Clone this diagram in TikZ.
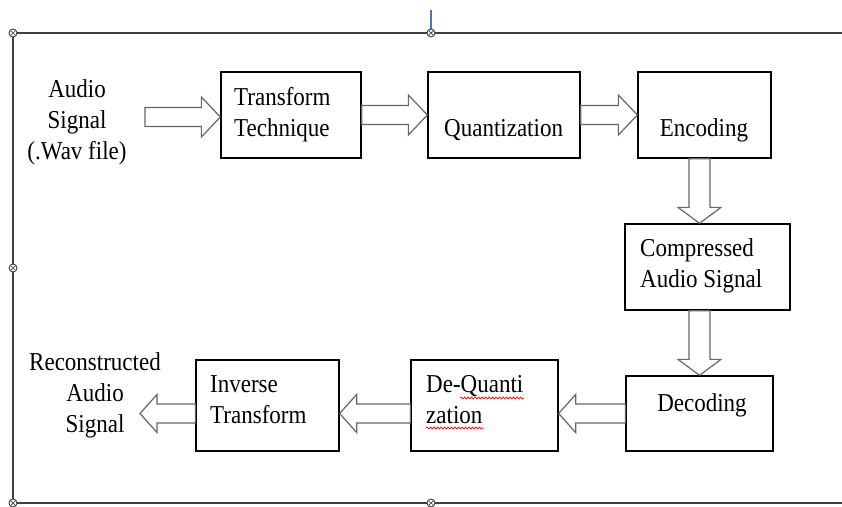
\documentclass[tikz,border=0pt]{standalone}
\usepackage{fontspec}
\setmainfont{Liberation Serif}
\usepackage{graphicx}
\usetikzlibrary{calc,decorations.pathmorphing}

\newcommand{\vt}[2][c]{\scalebox{1}[1.12]{\begin{tabular}{@{}#1@{}}#2\end{tabular}}}
\definecolor{tickblue}{RGB}{80,115,185}

\tikzset{
  box/.style={draw=black, line width=1.3pt, fill=white, inner sep=0pt},
  txt/.style={inner sep=0pt, font=\fontsize{23}{27.7}\selectfont},
  blk/.style={draw=black!60, line width=1.2pt, fill=white, line join=miter},
  frame/.style={draw=black!75, line width=1.7pt},
  handle/.style={draw=black!75, fill=white, line width=0.9pt},
  squig/.style={draw=red, line width=0.7pt, decorate, decoration={snake, amplitude=1pt, segment length=3.5pt}}
}

% right-pointing block arrow from #1 to #2 (y taken from #1)
\newcommand{\rarr}[2]{\draw[blk] let \p1=(#1), \p2=(#2) in
  (\x1,\y1+9.5pt) -- (\x2-19pt,\y1+9.5pt) -- (\x2-19pt,\y1+20pt) -- (\x2,\y1)
  -- (\x2-19pt,\y1-20pt) -- (\x2-19pt,\y1-9.5pt) -- (\x1,\y1-9.5pt) -- cycle;}
% left-pointing block arrow
\newcommand{\larr}[2]{\draw[blk] let \p1=(#1), \p2=(#2) in
  (\x1,\y1+9.5pt) -- (\x2+17pt,\y1+9.5pt) -- (\x2+17pt,\y1+19pt) -- (\x2,\y1)
  -- (\x2+17pt,\y1-19pt) -- (\x2+17pt,\y1-9.5pt) -- (\x1,\y1-9.5pt) -- cycle;}
% down-pointing block arrow (x taken from #1)
\newcommand{\darr}[2]{\draw[blk] let \p1=(#1), \p2=(#2) in
  (\x1-10.5pt,\y1) -- (\x1-10.5pt,\y2+16pt) -- (\x1-21.5pt,\y2+16pt) -- (\x1,\y2)
  -- (\x1+21.5pt,\y2+16pt) -- (\x1+10.5pt,\y2+16pt) -- (\x1+10.5pt,\y1) -- cycle;}

\begin{document}
\begin{tikzpicture}[x=1pt,y=-1pt]
\useasboundingbox (0,0) rectangle (842,506);

% frame
\draw[frame] (842,33) -- (13,33) -- (13,503) -- (842,503);
\draw[tickblue, line width=1.3pt] (431,10) -- (431,30);
\foreach \hx/\hy in {13/33, 431/33, 13/268, 13/503, 431/503}{
  \filldraw[handle] (\hx,\hy) circle (4pt);
  \draw[black!75, line width=0.7pt] (\hx-2.6,\hy-2.6) -- (\hx+2.6,\hy+2.6) (\hx-2.6,\hy+2.6) -- (\hx+2.6,\hy-2.6);
}

% boxes
\node[box, minimum width=140pt, minimum height=86pt] (tt)  at (291,115) {};
\node[box, minimum width=152pt, minimum height=86pt] (qz)  at (504,115) {};
\node[box, minimum width=133pt, minimum height=86pt] (enc) at (704.5,115) {};
\node[box, minimum width=165pt, minimum height=86pt] (cas) at (707.5,267) {};
\node[box, minimum width=147pt, minimum height=75pt] (dec) at (699.5,413.5) {};
\node[box, minimum width=147pt, minimum height=91pt] (dq)  at (484.5,405.5) {};
\node[box, minimum width=143pt, minimum height=91pt] (inv) at (267.5,405.5) {};

\coordinate (ain)  at (145,117);
\coordinate (aout) at (140,412.5);

% arrows
\rarr{ain}{tt.west}
\rarr{tt.east}{qz.west}
\rarr{qz.east}{enc.west}
\darr{enc.south -| dec.north}{cas.north}
\darr{cas.south -| dec.north}{dec.north}
\larr{dec.west}{dq.east}
\larr{dq.west |- dec.west}{inv.east}
\larr{inv.west |- dec.west}{aout}

% texts
\node[txt] (lin) at (77,122) {\vt{Audio\\Signal\\(.Wav file)}};
\node[txt, anchor=west] (ttx) at (234,114.5) {\vt[l]{Transform\\Technique}};
\node[txt, anchor=west] (qzx) at (444,130) {\vt{Quantization}};
\node[txt] (encx) at (704,130) {\vt{Encoding}};
\node[txt, anchor=west] (casx) at (640,266) {\vt[l]{Compressed\\Audio Signal}};
\node[txt] (decx) at (702,405) {\vt{Decoding}};
\node[txt, anchor=west] (dqx) at (426,402) {\vt[l]{De-Quanti\\zation}};
\node[txt, anchor=west] (invx) at (210,402) {\vt[l]{Inverse\\Transform}};
\node[txt] (outx) at (95,395) {\vt{Reconstructed\\Audio\\Signal}};

% spell-check squiggles
\draw[squig] (460,398) -- (524,398);
\draw[squig] (426,428) -- (484,428);
\end{tikzpicture}
\end{document}
